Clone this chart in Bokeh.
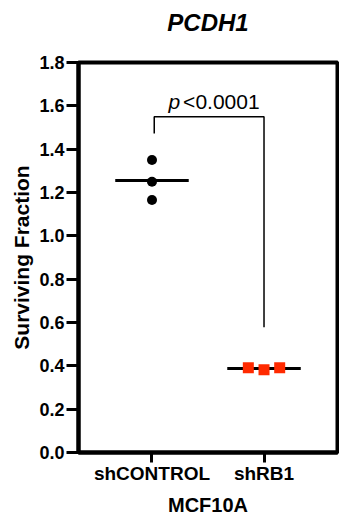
from bokeh.plotting import figure
from bokeh.models import FixedTicker, Range1d, LinearAxis
from bokeh.embed import file_html
from bokeh.resources import INLINE
from bokeh.core.properties import value

# ---- data ----
categories = ["shCONTROL", "shRB1"]
control_values = [1.35, 1.25, 1.165]
rb1_values = [0.391, 0.382, 0.391]
rb1_jitter = [-0.14, 0.0, 0.14]
y_ticks = [0.0, 0.2, 0.4, 0.6, 0.8, 1.0, 1.2, 1.4, 1.6, 1.8]
y_tick_labels = ["0.0", "0.2", "0.4", "0.6", "0.8", "1.0", "1.2", "1.4", "1.6", "1.8"]
title_text = "PCDH1"
x_title = "MCF10A"
y_title = "Surviving Fraction"
p_prefix = "p"
p_value_text = "<0.0001"
bracket_top = 1.55
bracket_left_bottom = 1.472
bracket_right_bottom = 0.578

FONT = "Liberation Sans"
RED = "#FF2A00"

x_lo, x_hi = -0.656, 1.656
p = figure(width=339, height=521, output_backend="svg", toolbar_location=None,
           x_range=Range1d(x_lo, x_hi), y_range=Range1d(0, 1.8),
           min_border_left=78, min_border_right=2, min_border_top=62, min_border_bottom=69)
p.title.visible = False
p.background_fill_color = "white"
p.border_fill_color = "white"
p.xgrid.visible = False
p.ygrid.visible = False
p.outline_line_color = "black"
p.outline_line_width = 4
p.outline_line_alpha = 1.0

xa = p.below[0]
ya = p.left[0]

# axes
for ax in (xa, ya):
    ax.axis_line_width = 4
    ax.axis_line_color = "black"
    ax.major_tick_line_width = 3
    ax.major_tick_line_color = "black"
    ax.major_tick_in = 0
    ax.minor_tick_line_color = None
    ax.major_label_text_font = FONT
    ax.major_label_text_font_style = "bold"
    ax.major_label_text_color = "black"
    ax.axis_label_text_font = FONT
    ax.axis_label_text_font_style = "bold"
    ax.axis_label_text_color = "black"

xa.ticker = FixedTicker(ticks=list(range(len(categories))))
xa.major_label_overrides = {i: c for i, c in enumerate(categories)}
xa.major_tick_out = 10
xa.major_label_standoff = 0
xa.major_label_text_font_size = "19px"
xa.axis_label = x_title
xa.axis_label_text_font_size = "20px"
xa.axis_label_standoff = 7

ya.ticker = FixedTicker(ticks=y_ticks)
ya.major_label_overrides = {t: l for t, l in zip(y_ticks, y_tick_labels)}
ya.major_tick_out = 12
ya.major_label_standoff = 2
ya.major_label_text_font_size = "18px"
ya.axis_label = y_title
ya.axis_label_text_font_size = "21px"
ya.axis_label_standoff = 3

# title drawn as the label of an empty axis above the frame
top_axis = LinearAxis(ticker=FixedTicker(ticks=[]), axis_line_color=None,
                      major_tick_line_color=None, minor_tick_line_color=None,
                      major_tick_out=0, major_tick_in=0, major_label_standoff=0,
                      axis_label=title_text, axis_label_text_font=FONT,
                      axis_label_text_font_style="bold italic",
                      axis_label_text_font_size="24px", axis_label_text_color="black",
                      axis_label_standoff=27)
p.add_layout(top_axis, "above")

# means
groups = [control_values, rb1_values]
for i, vals in enumerate(groups):
    m = sum(vals) / len(vals)
    p.segment(x0=[i - 0.328], x1=[i + 0.328], y0=[m], y1=[m], line_width=3, line_color="black")

# points
p.scatter(x=[0] * len(control_values), y=control_values, marker="circle", size=10,
          fill_color="black", line_color=None)
p.scatter(x=[1 + j for j in rb1_jitter], y=rb1_values, marker="square", size=11,
          fill_color=RED, line_color=None)

# significance bracket
bx0, bx1 = 0.02, 1.0
p.line(x=[bx0, bx0, bx1, bx1], y=[bracket_left_bottom, bracket_top, bracket_top, bracket_right_bottom],
       line_width=1.5, line_color="black")
bmid = (bx0 + bx1) / 2
p.text(x=[bmid], y=[bracket_top], text=[p_prefix], text_font=value(FONT), text_font_style="italic",
       text_font_size="21px", text_align="right", text_baseline="alphabetic",
       x_offset=-29, y_offset=-15, text_color="black")
p.text(x=[bmid], y=[bracket_top], text=[p_value_text], text_font=value(FONT),
       text_font_size="21px", text_align="left", text_baseline="alphabetic",
       x_offset=-26, y_offset=-15, text_color="black")

open("out.html", "w").write(file_html(p, INLINE))
